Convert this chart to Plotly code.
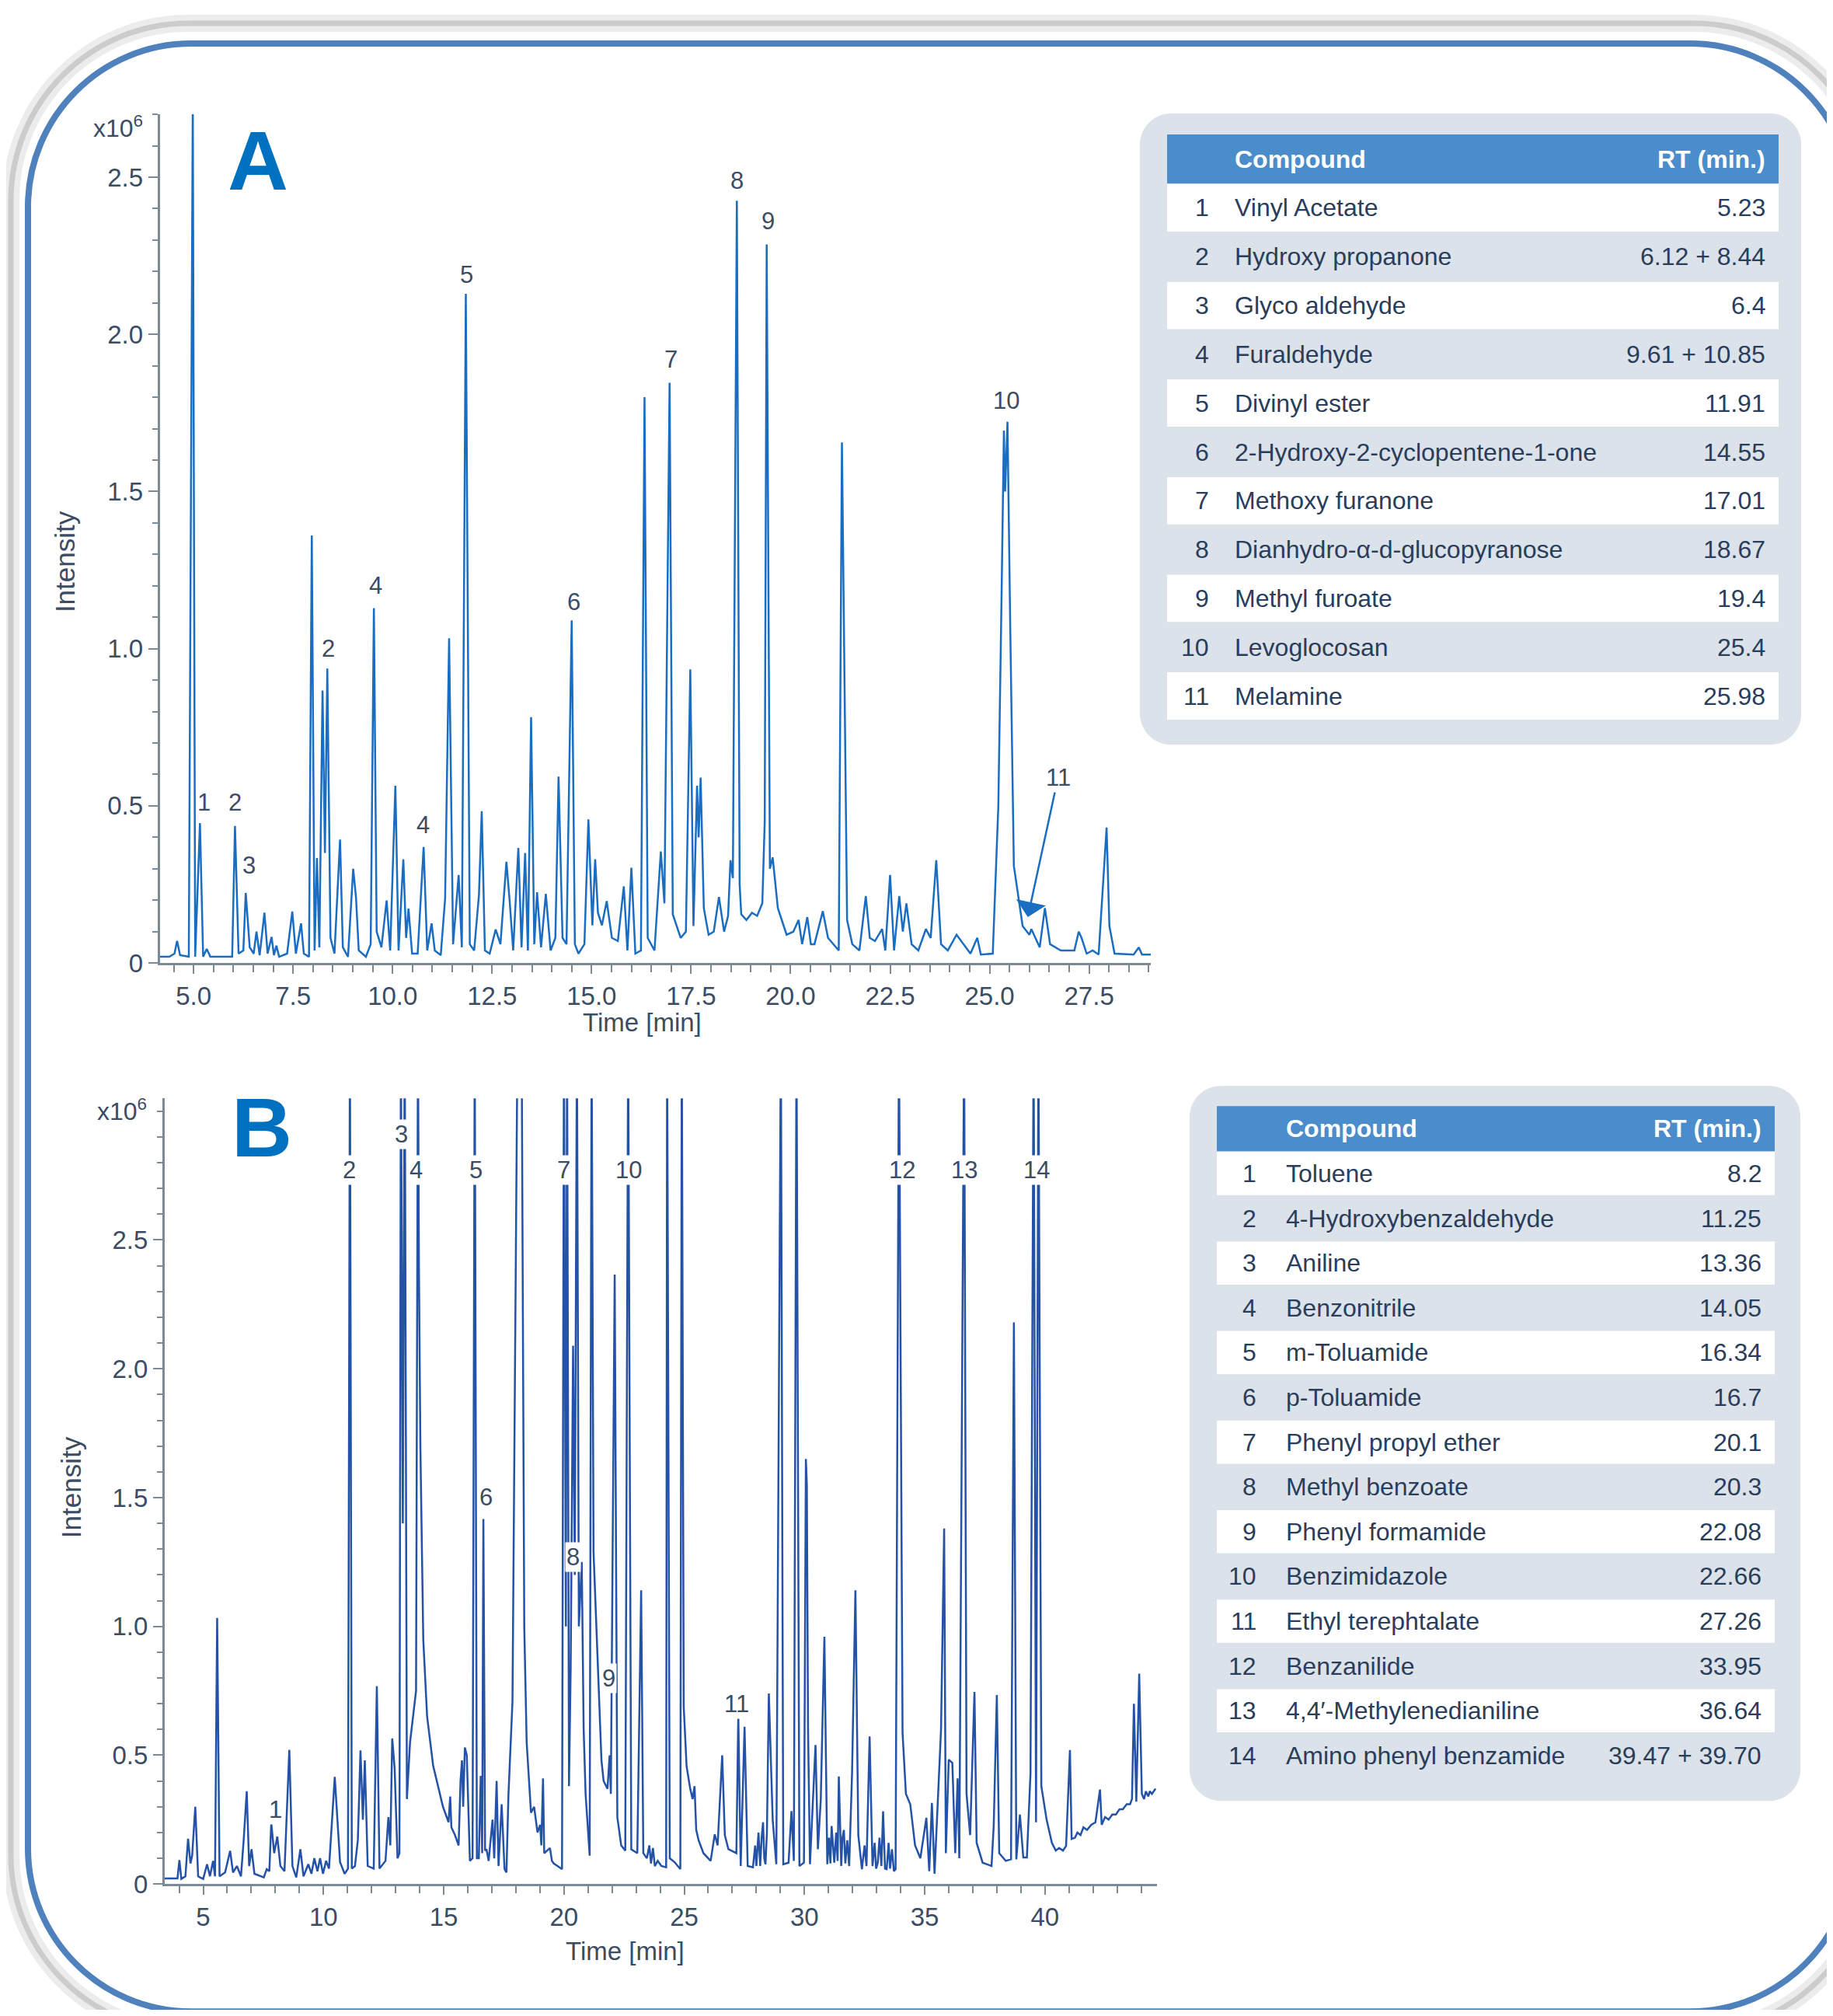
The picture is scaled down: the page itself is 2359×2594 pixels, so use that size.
import plotly.graph_objects as go

W, H = 2359, 2594          # browser window
OX, OY = 8, 8              # default page body margin around the plot div
FW, FH = W - 2 * OX, H - 2 * OY   # figure size so the page fits the window exactly
KY = 1.0075                # small vertical calibration of the photographed page
FONT = "Liberation Sans, Arial, Helvetica, sans-serif"
AXC = "#7b8a96"
TXT = "#3b4c63"
TBL_TXT = "#2a3d5a"
LINE_A = "#1a6dc0"
LINE_B = "#2452a6"
LETTER = "#0070c0"

# ---------------- Chromatogram A (time [min], intensity x10^6) ----------------
a_time = [4.15, 4.39, 4.52, 4.585, 4.66, 4.88, 4.98, 5.04, 5.16, 5.24,
          5.33, 5.42, 5.97, 6.04, 6.13, 6.25, 6.31, 6.36, 6.41, 6.51,
          6.58, 6.66, 6.78, 6.86, 6.96, 7.02, 7.08, 7.15, 7.35, 7.48,
          7.57, 7.70, 7.77, 7.90, 7.97, 8.04, 8.10, 8.16, 8.24, 8.30,
          8.36, 8.44, 8.54, 8.68, 8.75, 8.88, 9.01, 9.08, 9.15, 9.33,
          9.45, 9.53, 9.60, 9.72, 9.85, 9.94, 10.07, 10.15, 10.27, 10.34,
          10.40, 10.49, 10.63, 10.78, 10.87, 10.98, 11.06, 11.21, 11.32, 11.42,
          11.52, 11.66, 11.74, 11.84, 11.94, 12.05, 12.17, 12.24, 12.32, 12.44,
          12.59, 12.71, 12.86, 12.94, 13.03, 13.16, 13.24, 13.33, 13.40, 13.48,
          13.56, 13.63, 13.73, 13.85, 13.97, 14.09, 14.17, 14.27, 14.37, 14.50,
          14.58, 14.67, 14.82, 14.92, 15.02, 15.09, 15.16, 15.26, 15.38, 15.51,
          15.66, 15.81, 15.90, 16.00, 16.10, 16.24, 16.33, 16.41, 16.58, 16.74,
          16.83, 16.96, 17.04, 17.24, 17.37, 17.48, 17.56, 17.65, 17.69, 17.74,
          17.82, 17.94, 18.07, 18.20, 18.33, 18.43, 18.49, 18.55, 18.65, 18.72,
          18.76, 18.89, 19.03, 19.16, 19.29, 19.35, 19.40, 19.48, 19.55, 19.68,
          19.90, 20.07, 20.20, 20.29, 20.42, 20.51, 20.60, 20.81, 20.94, 21.21,
          21.29, 21.42, 21.55, 21.73, 21.89, 21.99, 22.12, 22.30, 22.38, 22.50,
          22.60, 22.73, 22.82, 22.91, 23.04, 23.21, 23.40, 23.52, 23.66, 23.78,
          23.95, 24.17, 24.34, 24.52, 24.69, 24.78, 25.08, 25.22, 25.30, 25.36,
          25.39, 25.45, 25.52, 25.61, 25.83, 26.00, 26.05, 26.26, 26.39, 26.52,
          26.79, 27.13, 27.24, 27.31, 27.44, 27.59, 27.74, 27.94, 28.01, 28.14,
          28.62, 28.75, 28.83, 29.05]
a_int = [0.02, 0.02, 0.03, 0.07, 0.025, 0.02, 2.75, 0.02, 0.445, 0.02,
         0.045, 0.02, 0.02, 0.436, 0.03, 0.04, 0.223, 0.13, 0.05, 0.03,
         0.10, 0.025, 0.16, 0.03, 0.083, 0.025, 0.055, 0.02, 0.03, 0.164,
         0.03, 0.126, 0.03, 0.02, 1.36, 0.04, 0.334, 0.05, 0.867, 0.35,
         0.937, 0.08, 0.03, 0.393, 0.05, 0.02, 0.30, 0.21, 0.04, 0.02,
         0.06, 1.129, 0.10, 0.05, 0.199, 0.04, 0.564, 0.04, 0.33, 0.08,
         0.173, 0.03, 0.03, 0.369, 0.04, 0.126, 0.04, 0.025, 0.205, 1.033,
         0.06, 0.28, 0.05, 2.129, 0.06, 0.04, 0.216, 0.483, 0.04, 0.03,
         0.107, 0.06, 0.322, 0.20, 0.04, 0.366, 0.05, 0.35, 0.04, 0.782,
         0.06, 0.225, 0.05, 0.22, 0.04, 0.08, 0.593, 0.08, 0.06, 1.09,
         0.06, 0.03, 0.06, 0.457, 0.12, 0.33, 0.16, 0.12, 0.197, 0.08,
         0.07, 0.244, 0.04, 0.303, 0.03, 0.04, 1.80, 0.08, 0.04, 0.355,
         0.19, 1.846, 0.155, 0.08, 0.10, 0.934, 0.118, 0.564, 0.40, 0.59,
         0.175, 0.09, 0.10, 0.21, 0.10, 0.15, 0.327, 0.27, 2.425, 0.25,
         0.155, 0.137, 0.16, 0.15, 0.19, 0.45, 2.286, 0.30, 0.336, 0.175,
         0.09, 0.10, 0.137, 0.06, 0.146, 0.06, 0.06, 0.165, 0.08, 0.04,
         1.656, 0.137, 0.06, 0.04, 0.213, 0.08, 0.07, 0.108, 0.04, 0.28,
         0.04, 0.213, 0.10, 0.19, 0.06, 0.04, 0.108, 0.08, 0.327, 0.06,
         0.04, 0.09, 0.06, 0.03, 0.08, 0.027, 0.03, 0.50, 1.16, 1.694,
         1.50, 1.722, 1.06, 0.309, 0.118, 0.09, 0.108, 0.05, 0.175, 0.06,
         0.04, 0.04, 0.10, 0.08, 0.03, 0.04, 0.027, 0.431, 0.118, 0.03,
         0.027, 0.05, 0.027, 0.027]

# ---------------- Chromatogram B ----------------
b_time = [3.40, 3.93, 4.01, 4.09, 4.26, 4.37, 4.47, 4.54, 4.67, 4.79,
          5.00, 5.16, 5.28, 5.41, 5.49, 5.58, 5.68, 5.91, 6.12, 6.24,
          6.40, 6.57, 6.68, 6.81, 6.91, 7.01, 7.13, 7.52, 7.64, 7.75,
          7.83, 7.95, 8.08, 8.21, 8.38, 8.58, 8.71, 8.87, 9.04, 9.17,
          9.37, 9.50, 9.62, 9.75, 9.86, 9.98, 10.11, 10.23, 10.47, 10.69,
          10.88, 11.02, 11.10, 11.18, 11.31, 11.43, 11.54, 11.64, 11.72, 11.84,
          12.09, 12.22, 12.33, 12.58, 12.70, 12.78, 12.86, 12.96, 13.08, 13.16,
          13.22, 13.30, 13.38, 13.47, 13.60, 13.85, 13.93, 13.97, 14.03, 14.10,
          14.15, 14.31, 14.56, 14.97, 15.20, 15.27, 15.32, 15.47, 15.62, 15.70,
          15.76, 15.81, 15.88, 15.96, 16.09, 16.20, 16.29, 16.38, 16.46, 16.54,
          16.60, 16.65, 16.72, 16.78, 16.87, 17.03, 17.10, 17.20, 17.28, 17.41,
          17.53, 17.61, 17.69, 17.86, 18.07, 18.24, 18.35, 18.45, 18.63, 18.76,
          18.90, 19.01, 19.06, 19.13, 19.18, 19.42, 19.50, 19.58, 19.92, 20.00,
          20.08, 20.13, 20.21, 20.28, 20.38, 20.45, 20.54, 20.62, 20.74, 20.82,
          20.90, 21.07, 21.15, 21.23, 21.40, 21.56, 21.65, 21.81, 21.90, 21.95,
          22.11, 22.22, 22.38, 22.55, 22.67, 22.80, 23.05, 23.21, 23.30, 23.45,
          23.55, 23.62, 23.70, 23.78, 23.90, 24.05, 24.25, 24.29, 24.40, 24.60,
          24.84, 24.90, 24.98, 25.10, 25.25, 25.35, 25.43, 25.50, 25.60, 25.80,
          26.10, 26.27, 26.39, 26.58, 26.69, 26.84, 27.17, 27.25, 27.35, 27.51,
          27.64, 27.86, 27.95, 28.00, 28.09, 28.16, 28.22, 28.28, 28.33, 28.38,
          28.44, 28.52, 28.68, 28.83, 29.02, 29.12, 29.34, 29.46, 29.56, 29.67,
          29.79, 29.98, 30.06, 30.10, 30.15, 30.23, 30.46, 30.56, 30.68, 30.83,
          30.95, 31.02, 31.08, 31.13, 31.24, 31.32, 31.38, 31.43, 31.53, 31.58,
          31.64, 31.70, 31.78, 31.86, 31.98, 32.12, 32.24, 32.39, 32.50, 32.58,
          32.71, 32.83, 32.92, 32.98, 33.05, 33.12, 33.20, 33.27, 33.35, 33.42,
          33.50, 33.56, 33.64, 33.72, 33.79, 33.93, 34.08, 34.22, 34.40, 34.60,
          34.82, 35.07, 35.19, 35.30, 35.41, 35.61, 35.68, 35.81, 35.88, 36.00,
          36.15, 36.27, 36.37, 36.44, 36.64, 36.74, 36.89, 37.07, 37.16, 37.41,
          37.78, 37.87, 38.00, 38.10, 38.37, 38.59, 38.71, 38.81, 38.96, 39.10,
          39.25, 39.40, 39.53, 39.63, 39.73, 39.85, 40.07, 40.29, 40.45, 40.59,
          40.75, 40.88, 41.04, 41.11, 41.25, 41.35, 41.48, 41.60, 41.75, 41.93,
          42.10, 42.29, 42.36, 42.50, 42.65, 42.80, 42.95, 43.10, 43.24, 43.40,
          43.54, 43.62, 43.70, 43.80, 43.92, 44.03, 44.12, 44.20, 44.30, 44.36,
          44.45, 44.60]
b_int = [0.022, 0.022, 0.093, 0.02, 0.03, 0.176, 0.08, 0.11, 0.30, 0.03,
         0.02, 0.077, 0.03, 0.09, 0.03, 1.033, 0.03, 0.045, 0.129, 0.045,
         0.07, 0.03, 0.167, 0.36, 0.07, 0.135, 0.04, 0.026, 0.058, 0.05,
         0.238, 0.12, 0.184, 0.07, 0.05, 0.521, 0.07, 0.026, 0.135, 0.03,
         0.077, 0.04, 0.10, 0.05, 0.10, 0.04, 0.09, 0.06, 0.416, 0.085,
         0.04, 0.06, 3.3, 0.06, 0.07, 0.17, 0.519, 0.25, 0.48, 0.07,
         0.06, 0.768, 0.06, 0.09, 0.26, 0.15, 0.565, 0.45, 0.10, 0.12,
         3.3, 1.4, 3.3, 0.33, 0.55, 0.75, 3.3, 2.4, 1.7, 1.25,
         0.95, 0.65, 0.46, 0.30, 0.24, 0.34, 0.22, 0.19, 0.15, 0.40,
         0.48, 0.30, 0.53, 0.50, 0.09, 0.10, 3.3, 0.10, 0.10, 0.42,
         0.12, 1.417, 0.13, 0.135, 0.09, 0.25, 0.10, 0.40, 0.07, 0.31,
         0.058, 0.045, 0.34, 0.71, 3.3, 3.3, 1.0, 0.55, 0.277, 0.30,
         0.20, 0.23, 0.15, 0.41, 0.12, 0.14, 0.09, 0.08, 0.058, 3.3,
         1.0, 3.3, 0.38, 0.84, 2.09, 1.2, 3.3, 1.0, 1.25, 0.6,
         0.35, 0.11, 3.3, 1.29, 0.84, 0.48, 0.40, 0.37, 0.50, 0.35,
         2.366, 0.26, 0.15, 0.13, 3.3, 0.135, 0.12, 1.14, 0.12, 0.10,
         0.15, 0.08, 0.14, 0.07, 0.09, 0.07, 0.065, 3.3, 0.10, 0.085,
         0.058, 3.3, 0.69, 0.457, 0.37, 0.33, 0.38, 0.21, 0.17, 0.12,
         0.09, 0.193, 0.15, 0.50, 0.19, 0.135, 0.12, 0.656, 0.07, 0.611,
         0.07, 0.065, 0.15, 0.07, 0.20, 0.07, 0.18, 0.24, 0.10, 0.077,
         0.20, 0.74, 0.25, 0.077, 3.3, 0.077, 0.083, 0.283, 0.09, 3.3,
         0.07, 0.083, 1.65, 1.55, 0.60, 0.077, 0.54, 0.135, 0.33, 0.96,
         0.077, 0.18, 0.08, 0.225, 0.083, 0.20, 0.09, 0.418, 0.07, 0.18,
         0.21, 0.08, 0.17, 0.07, 0.43, 1.14, 0.19, 0.058, 0.15, 0.07,
         0.573, 0.07, 0.16, 0.06, 0.083, 0.18, 0.07, 0.283, 0.06, 0.058,
         0.16, 0.06, 0.135, 0.05, 0.058, 3.3, 0.586, 0.35, 0.31, 0.15,
         0.10, 0.257, 0.05, 0.315, 0.04, 0.46, 0.60, 1.38, 0.12, 0.483,
         0.47, 0.12, 0.41, 0.10, 3.3, 0.35, 0.19, 0.746, 0.16, 0.083,
         0.07, 0.225, 0.734, 0.12, 0.09, 0.096, 2.18, 0.096, 0.27, 0.103,
         0.103, 0.43, 3.3, 0.24, 3.3, 0.38, 0.25, 0.16, 0.13, 0.14,
         0.13, 0.148, 0.52, 0.175, 0.18, 0.20, 0.19, 0.22, 0.21, 0.23,
         0.24, 0.367, 0.23, 0.26, 0.25, 0.27, 0.27, 0.29, 0.29, 0.31,
         0.31, 0.33, 0.70, 0.32, 0.817, 0.35, 0.33, 0.36, 0.34, 0.36,
         0.35, 0.37]

# ---------------- peak labels ----------------
a_lab_text = ["1", "2", "3", "2", "4", "4", "5", "6", "7", "8", "9", "10"]
a_lab_t = [5.26, 6.05, 6.39, 8.38, 9.57, 10.77, 11.86, 14.55, 16.99, 18.66, 19.44, 25.41]
a_lab_i = [0.51, 0.51, 0.31, 1.00, 1.20, 0.44, 2.19, 1.15, 1.92, 2.49, 2.36, 1.79]
a_arrow_label = "11"
a_arrow_tip = (25.96, 0.146)
a_arrow_text_pos = (26.72, 0.59)

b_lab_text = ["1", "2", "3", "4", "5", "6", "7", "8", "9", "10", "11", "12", "13", "14"]
b_lab_t = [8.02, 11.08, 13.24, 13.86, 16.35, 16.75, 20.0, 20.38, 21.87, 22.70, 27.17, 34.05, 36.65, 39.64]
b_lab_i = [0.29, 2.77, 2.91, 2.77, 2.77, 1.50, 2.77, 1.27, 0.80, 2.77, 0.70, 2.77, 2.77, 2.77]

# ---------------- tables ----------------
tab_a_num = ["1", "2", "3", "4", "5", "6", "7", "8", "9", "10", "11"]
tab_a_name = ["Vinyl Acetate", "Hydroxy propanone", "Glyco aldehyde", "Furaldehyde",
              "Divinyl ester", "2-Hydroxy-2-cyclopentene-1-one", "Methoxy furanone",
              "Dianhydro-α-d-glucopyranose", "Methyl furoate", "Levoglocosan", "Melamine"]
tab_a_rt = ["5.23", "6.12 + 8.44", "6.4", "9.61 + 10.85", "11.91", "14.55", "17.01",
            "18.67", "19.4", "25.4", "25.98"]

tab_b_num = [str(i) for i in range(1, 15)]
tab_b_name = ["Toluene", "4-Hydroxybenzaldehyde", "Aniline", "Benzonitrile", "m-Toluamide",
              "p-Toluamide", "Phenyl propyl ether", "Methyl benzoate", "Phenyl formamide",
              "Benzimidazole", "Ethyl terephtalate", "Benzanilide", "4,4′-Methylenedianiline",
              "Amino phenyl benzamide"]
tab_b_rt = ["8.2", "11.25", "13.36", "14.05", "16.34", "16.7", "20.1", "20.3", "22.08",
            "22.66", "27.26", "33.95", "36.64", "39.47 + 39.70"]

y_tickvals = [0, 0.5, 1.0, 1.5, 2.0, 2.5]
y_ticktext = ["0", "0.5", "1.0", "1.5", "2.0", "2.5"]


# ---------------- helpers (window pixel -> paper) ----------------
def px(x):
    return (x - OX) / FW


def py(y):
    return 1 - (y * KY - OY) / FH


def rr_path(x0, y0, x1, y1, r):
    k = 0.5523 * r

    def p(x, y):
        return f"{px(x):.6f},{py(y):.6f}"
    return (f"M {p(x0 + r, y0)} L {p(x1 - r, y0)} "
            f"C {p(x1 - r + k, y0)} {p(x1, y0 + r - k)} {p(x1, y0 + r)} "
            f"L {p(x1, y1 - r)} C {p(x1, y1 - r + k)} {p(x1 - r + k, y1)} {p(x1 - r, y1)} "
            f"L {p(x0 + r, y1)} C {p(x0 + r - k, y1)} {p(x0, y1 - r + k)} {p(x0, y1 - r)} "
            f"L {p(x0, y0 + r)} C {p(x0, y0 + r - k)} {p(x0 + r - k, y0)} {p(x0 + r, y0)} Z")


def rect(x0, y0, x1, y1, color):
    return dict(type="rect", xref="paper", yref="paper", x0=px(x0), x1=px(x1),
                y0=py(y1), y1=py(y0), fillcolor=color, line=dict(width=0), layer="below")


fig = go.Figure()
fig.add_trace(go.Scatter(x=a_time, y=a_int, mode="lines", xaxis="x", yaxis="y",
                         line=dict(color=LINE_A, width=2.5), hoverinfo="skip", showlegend=False))
fig.add_trace(go.Scatter(x=b_time, y=b_int, mode="lines", xaxis="x2", yaxis="y2",
                         line=dict(color=LINE_B, width=2.5), hoverinfo="skip", showlegend=False))

common = dict(showline=True, linecolor=AXC, linewidth=3, ticks="outside", tickcolor=AXC,
              tickwidth=2, showgrid=False, zeroline=False,
              tickfont=dict(family=FONT, size=33, color=TXT))

shapes = []
# outer frame shadow + blue frame
shapes.append(dict(type="path", xref="paper", yref="paper", layer="below",
                   path=rr_path(14, 30, 2408, 2614, 228), line=dict(color="#ececec", width=22)))
shapes.append(dict(type="path", xref="paper", yref="paper", layer="below",
                   path=rr_path(14, 30, 2408, 2614, 228), line=dict(color="#cccccc", width=7)))
shapes.append(dict(type="path", xref="paper", yref="paper", layer="below",
                   path=rr_path(36, 56, 2385, 2588, 210), line=dict(color="#4f81bd", width=8)))

annotations = []


def add_table(box, header, x_num, x_name, x_rt, row_h, nums, names, rts):
    bx0, by0, bx1, by1 = box
    shapes.append(dict(type="path", xref="paper", yref="paper", layer="below",
                       path=rr_path(bx0, by0, bx1, by1, 40), fillcolor="#dbe2e9",
                       line=dict(width=0)))
    hx0, hy0, hx1, hy1 = header
    shapes.append(rect(hx0, hy0, hx1, hy1, "#4b8dca"))
    hc = (hy0 + hy1) / 2
    annotations.append(dict(xref="paper", yref="paper", x=px(x_name), y=py(hc), xanchor="left",
                            yanchor="middle", showarrow=False, text="<b>Compound</b>",
                            font=dict(family=FONT, size=32, color="white")))
    annotations.append(dict(xref="paper", yref="paper", x=px(x_rt), y=py(hc), xanchor="right",
                            yanchor="middle", showarrow=False, text="<b>RT (min.)</b>",
                            font=dict(family=FONT, size=32, color="white")))
    for i, (n, nm, rt) in enumerate(zip(nums, names, rts)):
        r0 = hy1 + i * row_h
        r1 = r0 + row_h
        if i % 2 == 0:
            shapes.append(rect(hx0, r0 + 1, hx1, r1 - 1, "white"))
        c = (r0 + r1) / 2
        f = dict(family=FONT, size=32, color=TBL_TXT)
        annotations.append(dict(xref="paper", yref="paper", x=px(x_num), y=py(c), xanchor="right",
                                yanchor="middle", showarrow=False, text=n, font=f))
        annotations.append(dict(xref="paper", yref="paper", x=px(x_name), y=py(c), xanchor="left",
                                yanchor="middle", showarrow=False, text=nm, font=f))
        annotations.append(dict(xref="paper", yref="paper", x=px(x_rt), y=py(c), xanchor="right",
                                yanchor="middle", showarrow=False, text=rt, font=f))


add_table((1467, 146, 2318, 958), (1502, 173, 2289, 236), 1558, 1587, 2274, 62.8,
          tab_a_num, tab_a_name, tab_a_rt)
add_table((1531, 1397, 2317, 2317), (1566, 1423, 2284, 1481), 1619, 1653, 2269, 57.6,
          tab_b_num, tab_b_name, tab_b_rt)

# panel letters, axis titles, x10^6
for txt, x, y in [("A", 332, 206), ("B", 337, 1450)]:
    annotations.append(dict(xref="paper", yref="paper", x=px(x), y=py(y), xanchor="center",
                            yanchor="middle", showarrow=False, text=f"<b>{txt}</b>",
                            font=dict(family=FONT, size=108, color=LETTER)))
for x, y in [(827, 1315), (804, 2510)]:
    annotations.append(dict(xref="paper", yref="paper", x=px(x), y=py(y), xanchor="center",
                            yanchor="middle", showarrow=False, text="Time [min]",
                            font=dict(family=FONT, size=33, color=TXT)))
for x, y in [(83, 723), (91, 1914)]:
    annotations.append(dict(xref="paper", yref="paper", x=px(x), y=py(y), xanchor="center",
                            yanchor="middle", showarrow=False, text="Intensity", textangle=-90,
                            font=dict(family=FONT, size=35, color=TXT)))
for x, y in [(186, 163), (191, 1428)]:
    annotations.append(dict(xref="paper", yref="paper", x=px(x), y=py(y), xanchor="right",
                            yanchor="middle", showarrow=False, text="x10<sup>6</sup>",
                            font=dict(family=FONT, size=32, color=TXT)))

# peak labels A
for t, i, s in zip(a_lab_t, a_lab_i, a_lab_text):
    annotations.append(dict(xref="x", yref="y", x=t, y=i, text=s, showarrow=False,
                            xanchor="center", yanchor="middle",
                            font=dict(family=FONT, size=31, color=TXT)))
annotations.append(dict(xref="x", yref="y", x=a_arrow_tip[0], y=a_arrow_tip[1],
                        axref="x", ayref="y", ax=a_arrow_text_pos[0], ay=a_arrow_text_pos[1],
                        text=a_arrow_label, showarrow=True, arrowhead=1, arrowsize=2.6,
                        arrowwidth=2.5, arrowcolor=LINE_A,
                        font=dict(family=FONT, size=31, color=TXT)))
# peak labels B (white boxes)
for t, i, s in zip(b_lab_t, b_lab_i, b_lab_text):
    annotations.append(dict(xref="x2", yref="y2", x=t, y=i, text=s, showarrow=False,
                            xanchor="center", yanchor="middle", bgcolor="white", borderpad=1,
                            font=dict(family=FONT, size=31, color=TXT)))

fig.update_layout(
    width=FW, height=FH, autosize=False,
    margin=dict(l=0, r=0, t=0, b=0),
    paper_bgcolor="white", plot_bgcolor="rgba(0,0,0,0)",
    showlegend=False,
    xaxis=dict(domain=[px(205.6), px(1481)], range=[4.15, 29.05], anchor="y",
               tickmode="linear", tick0=0, dtick=2.5, tickformat=".1f", ticklen=11,
               minor=dict(tickmode="linear", tick0=0, dtick=0.5, ticks="outside", ticklen=9,
                          tickcolor=AXC, tickwidth=2), **common),
    yaxis=dict(domain=[py(1239), py(147)], range=[0, 2.7], anchor="x",
               tickmode="array", tickvals=y_tickvals, ticktext=y_ticktext, ticklen=12,
               minor=dict(tickmode="linear", tick0=0, dtick=0.1, ticks="outside", ticklen=7,
                          tickcolor=AXC, tickwidth=2), **common),
    xaxis2=dict(domain=[px(212), px(1488.7)], range=[3.4, 44.65], anchor="y2",
                tickmode="linear", tick0=0, dtick=5, ticklen=11,
                minor=dict(tickmode="linear", tick0=0, dtick=1, ticks="outside", ticklen=9,
                           tickcolor=AXC, tickwidth=2), **common),
    yaxis2=dict(domain=[py(2424), py(1413)], range=[0, 3.05], anchor="x2",
                tickmode="array", tickvals=y_tickvals, ticktext=y_ticktext, ticklen=12,
                minor=dict(tickmode="linear", tick0=0, dtick=0.1, ticks="outside", ticklen=7,
                           tickcolor=AXC, tickwidth=2), **common),
    shapes=shapes,
    annotations=annotations,
)

fig.write_html("out.html")
